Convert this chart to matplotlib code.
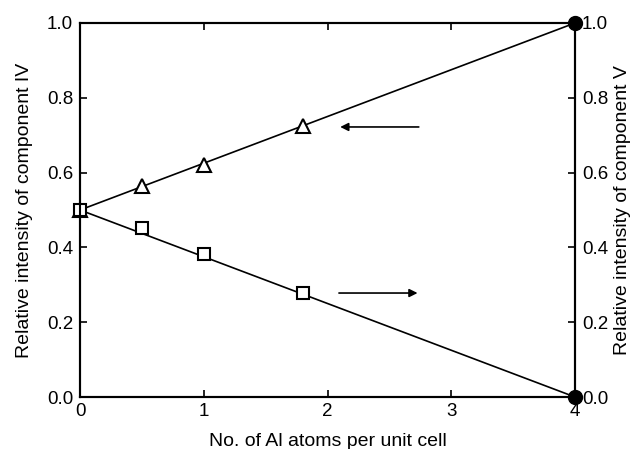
import matplotlib
matplotlib.use('Agg')
import matplotlib.pyplot as plt

plt.rcParams['font.family'] = ['Liberation Sans', 'DejaVu Sans']

# component IV (triangles) and component V (squares)
al_atoms = [0, 0.5, 1.0, 1.8]
comp_iv = [0.5, 0.565, 0.62, 0.725]
comp_v = [0.5, 0.453, 0.382, 0.277]

# end points at 4 Al atoms
end_x = [4, 4]
end_y = [1.0, 0.0]

# fitted lines
line_x = [0, 4]
line_iv = [0.5, 1.0]
line_v = [0.5, 0.0]

fig = plt.figure(figsize=(6.36, 4.49), dpi=100)
ax = fig.add_axes([0.1258, 0.1158, 0.7783, 0.833])

ax.plot(line_x, line_iv, 'k-', lw=1.2)
ax.plot(line_x, line_v, 'k-', lw=1.2)
ax.plot(al_atoms, comp_iv, 'k^', markerfacecolor='white', markersize=10,
        markeredgewidth=1.5, clip_on=False, zorder=4)
ax.plot(al_atoms, comp_v, 'ks', markerfacecolor='white', markersize=9,
        markeredgewidth=1.5, clip_on=False, zorder=4)
ax.plot(end_x, end_y, 'ko', markersize=10, clip_on=False, zorder=5)

# arrows pointing to the axis each series belongs to
ax.annotate('', xy=(2.08, 0.722), xytext=(2.76, 0.722),
            arrowprops=dict(arrowstyle='-|>', color='k', lw=1.2, mutation_scale=12))
ax.annotate('', xy=(2.75, 0.278), xytext=(2.07, 0.278),
            arrowprops=dict(arrowstyle='-|>', color='k', lw=1.2, mutation_scale=12))

ax.set_xlim(0, 4)
ax.set_ylim(0, 1.0)
ax.set_xticks([0, 1, 2, 3, 4])
ax.set_yticks([0.0, 0.2, 0.4, 0.6, 0.8, 1.0])
ax.set_yticklabels(['0.0', '0.2', '0.4', '0.6', '0.8', '1.0'])
ax.tick_params(direction='in', length=5, width=1.2, labelsize=13.5, top=True, pad=5)
ax.tick_params(axis='x', pad=4)
for s in ax.spines.values():
    s.set_linewidth(1.5)

ax.set_xlabel('No. of Al atoms per unit cell', fontsize=14, labelpad=10)
ax.set_ylabel('Relative intensity of component IV', fontsize=14, labelpad=10)

ax2 = ax.twinx()
ax2.set_ylim(0, 1.0)
ax2.set_yticks([0.0, 0.2, 0.4, 0.6, 0.8, 1.0])
ax2.set_yticklabels(['0.0', '0.2', '0.4', '0.6', '0.8', '1.0'])
ax2.tick_params(direction='in', length=5, width=1.2, labelsize=13.5, pad=5)
for s in ax2.spines.values():
    s.set_linewidth(1.5)
ax2.set_ylabel('Relative intensity of component V', fontsize=14, labelpad=4)

fig.savefig('out.png', dpi=100)
